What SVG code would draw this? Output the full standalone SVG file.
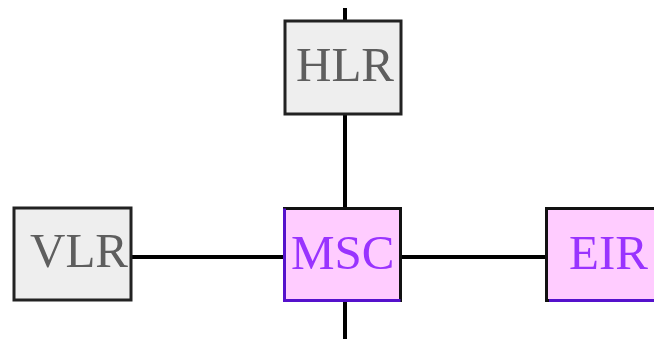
<svg xmlns="http://www.w3.org/2000/svg" width="654" height="339" viewBox="0 0 654 339">
  <style>
    .wire { stroke: #000; stroke-width: 4; fill: none; }
    .plain rect { fill: #eeeeee; stroke: #222; stroke-width: 3; }
    .hot rect { fill: #ffccff; stroke: #111; stroke-width: 3; }
    .hot .edge { stroke: #5511cc; stroke-width: 3; fill: none; }
    text { font-family: "Liberation Serif", "Times New Roman", serif; font-size: 49px; }
    .plain text { fill: #5e5e5e; }
    .hot text { fill: #9933ff; }
  </style>
  <rect width="654" height="339" fill="#ffffff"/>
  <g id="connectors">
    <line class="wire" x1="345" y1="8" x2="345" y2="20"/>
    <line class="wire" x1="345" y1="114" x2="345" y2="208"/>
    <line class="wire" x1="345" y1="301" x2="345" y2="339"/>
    <line class="wire" x1="132" y1="257" x2="284" y2="257"/>
    <line class="wire" x1="401" y1="257" x2="546" y2="257"/>
  </g>
  <g id="HLR" class="plain">
    <rect x="285" y="21" width="116" height="93"/>
    <text x="296" y="81">HLR</text>
  </g>
  <g id="VLR" class="plain">
    <rect x="14" y="208" width="117" height="92"/>
    <text x="30" y="267">VLR</text>
  </g>
  <g id="MSC" class="hot">
    <rect x="284.5" y="208.5" width="116" height="92"/>
    <polyline class="edge" points="284.5,208.5 284.5,300.5 400.5,300.5"/>
    <text x="291" y="269">MSC</text>
  </g>
  <g id="EIR" class="hot">
    <rect x="546.5" y="208.5" width="116" height="92"/>
    <polyline class="edge" points="549,300.5 662.5,300.5"/>
    <text x="569" y="269">EIR</text>
  </g>
</svg>
